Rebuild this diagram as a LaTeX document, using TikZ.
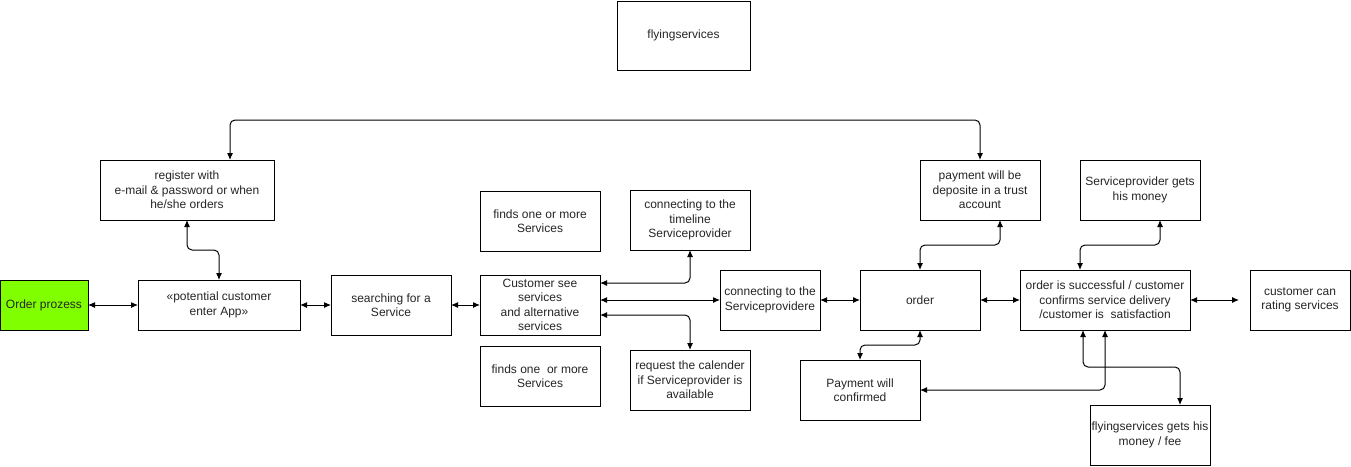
\documentclass[tikz,border=0pt]{standalone}
\usepackage{fontspec}
\setmainfont{Liberation Sans}
\usetikzlibrary{arrows.meta}
\tikzset{
  box/.style={draw=black, line width=1pt, fill=white, inner sep=0pt, outer sep=0pt,
    align=center, font=\fontsize{12}{14.5}\selectfont, text=black!85},
  link/.style={draw=black, line width=1pt, rounded corners=5pt,
    {Latex[length=7pt,width=6pt]}-{Latex[length=7pt,width=6pt]}},
}
\begin{document}
\begin{tikzpicture}[x=1pt,y=-1pt]
\useasboundingbox (0,0) rectangle (1351,466);
% nodes
\node[box, minimum width=133pt, minimum height=69pt] (fly) at (683.5,35.5) {flyingservices};
\node[box, minimum width=174pt, minimum height=60pt] (reg) at (187,190) {register with\\e-mail \& password or when\\he/she orders};
\node[box, fill={rgb,255:red,128;green,255;blue,0}, minimum width=88pt, minimum height=50pt] (ord0) at (44,305) {Order prozess};
\node[box, minimum width=162pt, minimum height=50pt] (pot) at (219,305) {«potential customer\\enter App»};
\node[box, minimum width=120pt, minimum height=60pt] (search) at (391,305) {searching for a\\Service};
\node[box, minimum width=120pt, minimum height=60pt] (find1) at (540,221) {finds one or more\\Services};
\node[box, minimum width=120pt, minimum height=60pt] (cust) at (540,305) {Customer see\\services\\and alternative\\services};
\node[box, minimum width=120pt, minimum height=60pt] (find2) at (540,376) {finds one~ or more\\Services};
\node[box, minimum width=120pt, minimum height=60pt] (tl) at (690,220) {connecting to the\\timeline\\Serviceprovider};
\node[box, minimum width=120pt, minimum height=60pt] (req) at (690,380) {request the calender\\if Serviceprovider is\\available};
\node[box, minimum width=100pt, minimum height=60pt] (conn) at (770,300) {connecting to the\\Serviceprovidere};
\node[box, minimum width=120pt, minimum height=60pt] (pay) at (980,190) {payment will be\\deposite in a trust\\account};
\node[box, minimum width=120pt, minimum height=60pt] (ord) at (920,300) {order};
\node[box, minimum width=170pt, minimum height=60pt] (succ) at (1105,300) {order is successful / customer\\confirms service delivery\\/customer is~ satisfaction};
\node[box, minimum width=100pt, minimum height=60pt] (rate) at (1300,300) {customer can\\rating services};
\node[box, minimum width=120pt, minimum height=60pt] (spm) at (1140,190) {Serviceprovider gets\\his money};
\node[box, minimum width=120pt, minimum height=60pt] (conf) at (860,390) {Payment will\\confirmed};
\node[box, minimum width=120pt, minimum height=60pt] (fee) at (1150,435) {flyingservices gets his\\money / fee};
% connectors
\draw[link] ([xshift=43pt]reg.north) -- ++(0,-40) -| (pay.north);
\draw[link] (reg.south) -- ++(0,30) -| (pot.north);
\draw[link] (ord0.east) -- (pot.west);
\draw[link] (pot.east) -- (search.west);
\draw[link] (search.east) -- (cust.west);
\draw[link] ([yshift=22pt]cust.east) -| (tl.south);
\draw[link] (cust.east |- conn.west) -- (conn.west);
\draw[link] ([yshift=-10pt]cust.east) -| (req.north);
\draw[link] (conn.east) -- (ord.west);
\draw[link] (ord.east) -- (succ.west);
\draw[link] (succ.east) -- ([xshift=-11pt]rate.west);
\draw[link] (ord.north) -- ++(0,-25) -| ([xshift=20pt]pay.south);
\draw[link] ([xshift=-25pt]succ.north) -- ++(0,-25) -| ([xshift=20pt]spm.south);
\draw[link] (ord.south) -- ++(0,15) -| (conf.north);
\draw[link] (succ.south) |- (conf.east);
\draw[link] ([xshift=-22pt]succ.south) -- ++(0,37) -| ([xshift=30pt]fee.north);
\end{tikzpicture}
\end{document}
